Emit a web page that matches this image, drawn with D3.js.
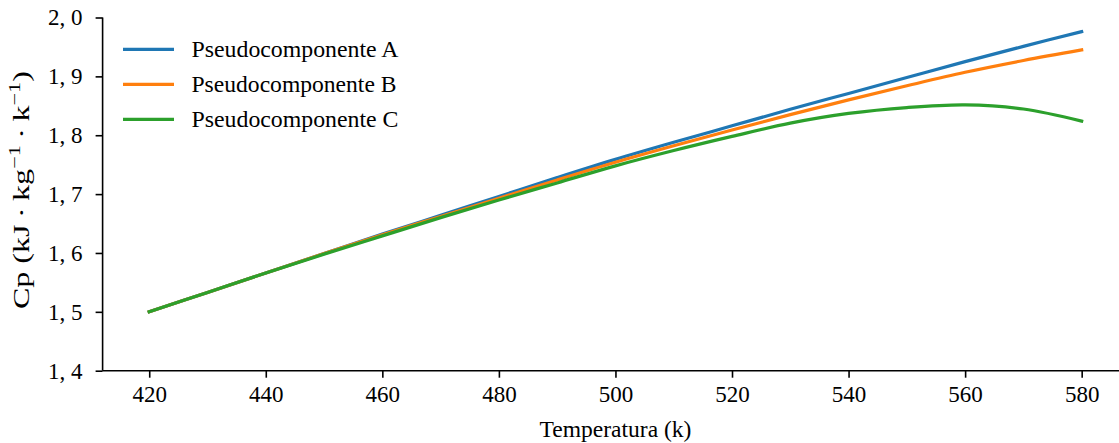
<!DOCTYPE html>
<html><head><meta charset="utf-8">
<script src="https://cdn.jsdelivr.net/npm/d3@7"></script>
<style>
html,body{margin:0;padding:0;background:#fff;overflow:hidden;}
text{font-family:"Liberation Serif","DejaVu Serif",serif;fill:#000;}
</style></head>
<body><svg id="chart" width="1119" height="443"></svg>
<script>
const temps = [420,430,440,450,460,470,480,490,500,510,520,530,540,550,560,570,580];
const cpA = [1.500,1.533,1.566,1.599,1.632,1.664,1.696,1.728,1.759,1.788,1.816,1.844,1.871,1.898,1.925,1.951,1.976];
const cpB = [1.500,1.533,1.566,1.599,1.631,1.662,1.693,1.724,1.754,1.782,1.809,1.835,1.860,1.884,1.907,1.927,1.945];
const cpC = [1.500,1.533,1.566,1.598,1.629,1.660,1.690,1.719,1.748,1.774,1.798,1.8205,1.837,1.847,1.8515,1.8445,1.824];
const seriesNames = ["Pseudocomponente A","Pseudocomponente B","Pseudocomponente C"];
const seriesColors = ["#1f77b4","#ff7f0e","#2ca02c"];
const xTicks = [420,440,460,480,500,520,540,560,580];
const yTicks = [1.4,1.5,1.6,1.7,1.8,1.9,2.0];

const svg = d3.select("#chart");
const L = 102.6, R = 1128.3, T = 17.5, B = 370.7;
const x = d3.scaleLinear().domain([412,588]).range([L,R]);
const y = d3.scaleLinear().domain([1.4,2.0]).range([B,T]);

const fmt = v => d3.format(".1f")(v).replace(".", ", ");

// lines
const line = d3.line().x(d=>x(d[0])).y(d=>y(d[1])).curve(d3.curveCatmullRom.alpha(0.5));
[cpA,cpB,cpC].forEach((vals,i)=>{
  svg.append("path").datum(temps.map((t,j)=>[t,vals[j]]))
    .attr("d",line).attr("fill","none").attr("stroke",seriesColors[i])
    .attr("stroke-width",3.2).attr("stroke-linecap","square");
});

// axes
const xAxis = d3.axisBottom(x).tickValues(xTicks).tickSize(7).tickPadding(8).tickFormat(d3.format("d"));
const gx = svg.append("g").attr("transform",`translate(0,${B})`).call(xAxis);
gx.select(".domain").attr("d",`M${L},0H${R}`);
const yAxis = d3.axisLeft(y).tickValues(yTicks).tickSize(7).tickPadding(13).tickFormat(fmt);
const gy = svg.append("g").attr("transform",`translate(${L},0)`).call(yAxis);
gy.select(".domain").attr("d",`M0,${T}V${B}`);
[gx,gy].forEach(g=>{
  g.selectAll(".domain").attr("stroke","#000").attr("stroke-width",1.6);
  g.selectAll(".tick line").attr("stroke","#000").attr("stroke-width",1.6);
  g.selectAll(".tick text").style("font-family","'Liberation Serif',serif").style("font-size","23px").attr("fill","#000");
});

// axis labels
svg.append("text").attr("x",(L+R)/2).attr("y",437).attr("text-anchor","middle")
  .style("font-size","23px").attr("textLength",152).attr("lengthAdjust","spacingAndGlyphs")
  .text("Temperatura (k)");
const yl = svg.append("text").attr("transform",`translate(29,${(T+B)/2 - 4}) rotate(-90)`)
  .attr("text-anchor","middle").style("font-size","23px")
  .attr("textLength",238).attr("lengthAdjust","spacingAndGlyphs");
yl.append("tspan").text("Cp (kJ\u2009·\u2009kg");
yl.append("tspan").attr("dy",-9).style("font-size","16px").text("−1");
yl.append("tspan").attr("dy",9).text("\u2009·\u2009k");
yl.append("tspan").attr("dy",-9).style("font-size","16px").text("−1");
yl.append("tspan").attr("dy",9).text(")");

// legend
const lg = svg.append("g");
seriesNames.forEach((n,i)=>{
  const yy = 49.3 + i*35;
  lg.append("line").attr("x1",123).attr("x2",174).attr("y1",yy).attr("y2",yy)
    .attr("stroke",seriesColors[i]).attr("stroke-width",3.2);
  lg.append("text").attr("x",191.5).attr("y",yy).attr("dy","0.35em")
    .style("font-size","23px").attr("textLength", i===1 ? 205 : 207).attr("lengthAdjust","spacingAndGlyphs").text(n);
});
</script></body></html>
